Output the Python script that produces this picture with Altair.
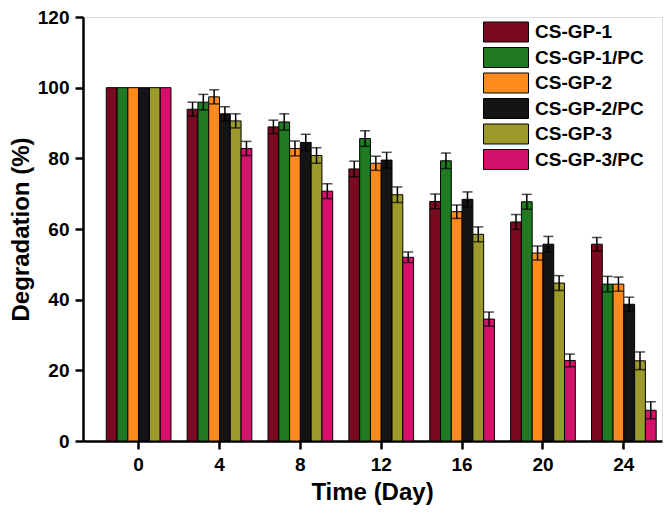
import altair as alt
import pandas as pd

days = [0, 4, 8, 12, 16, 20, 24]
series = ["CS-GP-1", "CS-GP-1/PC", "CS-GP-2", "CS-GP-2/PC", "CS-GP-3", "CS-GP-3/PC"]
colors = ["#7A0A1F", "#1F7A22", "#FF8A1C", "#141414", "#9C9A2A", "#D4126B"]

values = {
    "CS-GP-1":    [100, 93.9, 88.9, 77.0, 67.8, 62.0, 55.7],
    "CS-GP-1/PC": [100, 95.9, 90.3, 85.6, 79.3, 67.7, 44.4],
    "CS-GP-2":    [100, 97.4, 82.8, 78.6, 64.9, 53.2, 44.4],
    "CS-GP-2/PC": [100, 92.6, 84.5, 79.5, 68.4, 55.7, 38.7],
    "CS-GP-3":    [100, 90.6, 80.8, 69.7, 58.5, 44.7, 22.7],
    "CS-GP-3/PC": [100, 82.8, 70.7, 52.0, 34.5, 22.8, 8.7],
}
errors = {
    "CS-GP-1":    [0, 2.0, 1.9, 2.2, 2.1, 2.1, 1.9],
    "CS-GP-1/PC": [0, 2.2, 2.3, 2.2, 2.2, 2.1, 2.2],
    "CS-GP-2":    [0, 2.0, 2.1, 2.0, 1.9, 2.0, 2.0],
    "CS-GP-2/PC": [0, 2.0, 2.3, 2.2, 2.1, 2.2, 2.0],
    "CS-GP-3":    [0, 2.0, 2.2, 2.2, 2.1, 2.1, 2.5],
    "CS-GP-3/PC": [0, 2.0, 2.1, 1.5, 2.0, 1.8, 2.4],
}

rows = []
for s in series:
    for d, v, e in zip(days, values[s], errors[s]):
        rows.append({"day": d, "series": s, "value": v, "err": e})
df = pd.DataFrame(rows)

FONT = "Liberation Sans"

x = alt.X(
    "day:O",
    scale=alt.Scale(paddingInner=0.2, paddingOuter=0.18, align=0.8),
    axis=alt.Axis(
        title="Time (Day)", labelAngle=0, labelFont=FONT, labelFontSize=19,
        labelFontWeight="bold", labelColor="black", labelPadding=6,
        tickSize=8, tickWidth=2.5, tickColor="black",
        domainWidth=2.5, domainColor="black",
        titleFont=FONT, titleFontSize=24, titleFontWeight="bold", titleColor="black",
        titleX=289, titleY=51, titleBaseline="middle", titleAlign="center",
    ),
)
xoff = alt.XOffset("series:N", sort=series, scale=alt.Scale(paddingInner=0, paddingOuter=0))
y = alt.Y(
    "value:Q",
    scale=alt.Scale(domain=[0, 120], nice=False),
    axis=alt.Axis(
        title="Degradation (%)", values=list(range(0, 121, 10)),
        labelExpr="datum.value % 20 == 0 ? datum.label : ''",
        labelFont=FONT, labelFontSize=19, labelFontWeight="bold", labelColor="black",
        labelPadding=6, grid=False,
        tickSize={"condition": {"test": "datum.value % 20 == 0", "value": 8}, "value": 5},
        tickWidth=2.5, tickColor="black", domainWidth=2.5, domainColor="black",
        titleFont=FONT, titleFontSize=24, titleFontWeight="bold", titleColor="black",
        titleX=-62, titleY=212, titleAngle=-90, titleBaseline="middle", titleAlign="center",
    ),
)

color = alt.Color(
    "series:N", sort=series,
    scale=alt.Scale(domain=series, range=colors),
    legend=alt.Legend(
        title=None, orient="none", legendX=411, legendY=3,
        symbolType="M-2,-0.889H2V0.889H-2Z", symbolSize=506,
        symbolStrokeColor="black", symbolStrokeWidth=1, symbolOpacity=1,
        labelFont=FONT, labelFontSize=19, labelFontWeight="bold", labelColor="black",
        labelOffset=17, rowPadding=1.5, padding=0,
    ),
)

base = alt.Chart(df)

bars = base.mark_bar(stroke="black", strokeWidth=1, opacity=1).encode(
    x=x, xOffset=xoff, y=y, color=color
)

eb = base.transform_filter("datum.err > 0").transform_calculate(
    lo="datum.value - datum.err", hi="datum.value + datum.err"
)
rule = eb.mark_rule(color="black", strokeWidth=1.5).encode(
    x=alt.X("day:O"), xOffset=xoff, y=alt.Y("lo:Q"), y2="hi:Q"
)
cap_hi = eb.mark_tick(color="black", thickness=1.5, size=10).encode(
    x=alt.X("day:O"), xOffset=xoff, y=alt.Y("hi:Q")
)
cap_lo = eb.mark_tick(color="black", thickness=1.5, size=10).encode(
    x=alt.X("day:O"), xOffset=xoff, y=alt.Y("lo:Q")
)

chart = alt.layer(bars, rule, cap_hi, cap_lo).properties(
    width=579, height=424,
    autosize=alt.AutoSizeParams(type="none"),
    padding={"left": 75, "top": 9, "right": 1, "bottom": 65},
).configure_view(stroke="black", strokeWidth=2.5).configure(background="white")

chart.save("out.html", embed_options={"renderer": "svg", "actions": False})
